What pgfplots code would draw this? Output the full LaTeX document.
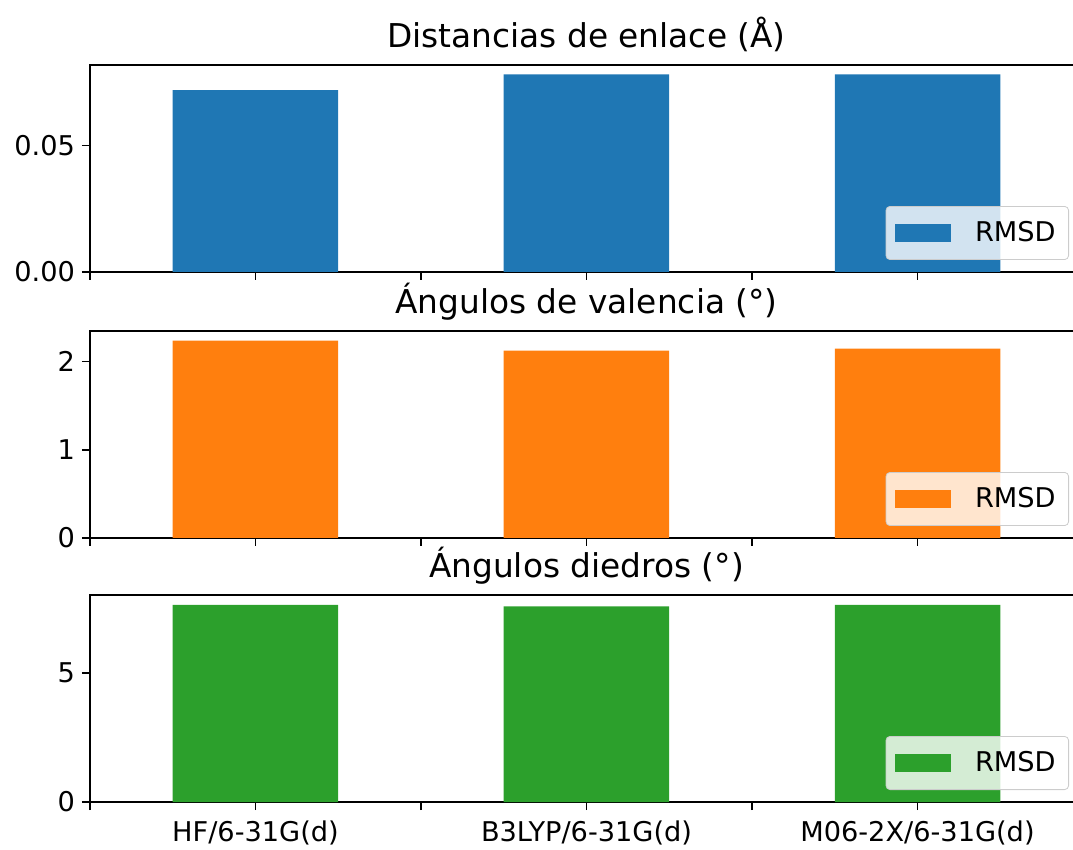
\documentclass[border=0pt]{standalone}
\usepackage{pgfplots}
\pgfplotsset{compat=1.18}
\usepackage{fontspec}
\setmainfont{DejaVu Sans}

\definecolor{tabblue}{HTML}{1F77B4}
\definecolor{taborange}{HTML}{FF7F0E}
\definecolor{tabgreen}{HTML}{2CA02C}
\definecolor{legedge}{HTML}{CCCCCC}

\pgfplotsset{
  rmsd panel/.style={
    width=496.5pt, height=103.5pt, scale only axis,
    anchor=north west,
    xmin=-0.5, xmax=2.5, ymin=0,
    ybar, bar width=0.5,
    xtick={-0.5,0,0.5,1,1.5,2,2.5},
    tick pos=left, tick align=outside, major tick length=4pt,
    axis line style={line width=0.8pt},
    every tick/.style={black, line width=0.8pt},
    ticklabel style={font=\fontsize{13.6}{16}\selectfont},
    xticklabel style={yshift=-2pt},
    /pgf/number format/assume math mode=true,
    every axis title/.style={at={(0.5,1)}, anchor=base, yshift=8.5pt,
      font=\fontsize{16.4}{19}\selectfont},
    legend style={at={(1,0)}, anchor=south east, xshift=-7pt, yshift=6pt,
      fill=white, fill opacity=0.8, text opacity=1, draw=legedge,
      rounded corners=2pt, inner xsep=4.5pt, inner ysep=5.5pt,
      font=\fontsize{13.6}{16}\selectfont,
      /tikz/every odd column/.append style={column sep=10pt}},
  },
  rmsd legend/.style={
    legend image code/.code={\fill[##1, fill opacity=1, sharp corners] (0pt,-4.6pt) rectangle (28pt,4.6pt);}
  },
}

\begin{document}
\begin{tikzpicture}
% Bond distances
\begin{axis}[rmsd panel, at={(0,0)},
  title={Distancias de enlace (Å)},
  ymax=0.0817, ytick={0,0.05},
  scaled y ticks=false,
  yticklabel style={/pgf/number format/fixed, /pgf/number format/fixed zerofill,
    /pgf/number format/precision=2},
  xticklabels={}]
\addplot[fill=tabblue, draw=none, rmsd legend] coordinates {(0,0.0718) (1,0.0780) (2,0.0780)};
\addlegendentry{RMSD}
\end{axis}
% Valence angles
\begin{axis}[rmsd panel, at={(0,-133pt)},
  title={Ángulos de valencia (°)},
  ymax=2.345, ytick={0,1,2},
  xticklabels={}]
\addplot[fill=taborange, draw=none, rmsd legend] coordinates {(0,2.236) (1,2.123) (2,2.145)};
\addlegendentry{RMSD}
\end{axis}
% Dihedral angles
\begin{axis}[rmsd panel, at={(0,-265pt)},
  title={Ángulos diedros (°)},
  ymax=8.02, ytick={0,5},
  xticklabels={,HF/6-31G(d),,B3LYP/6-31G(d),,M06-2X/6-31G(d),}]
\addplot[fill=tabgreen, draw=none, rmsd legend] coordinates {(0,7.64) (1,7.58) (2,7.64)};
\addlegendentry{RMSD}
\end{axis}
\pgfresetboundingbox
\path[use as bounding box] (-45pt,-392.5pt) rectangle (491.5pt,32.5pt);
\end{tikzpicture}
\end{document}
